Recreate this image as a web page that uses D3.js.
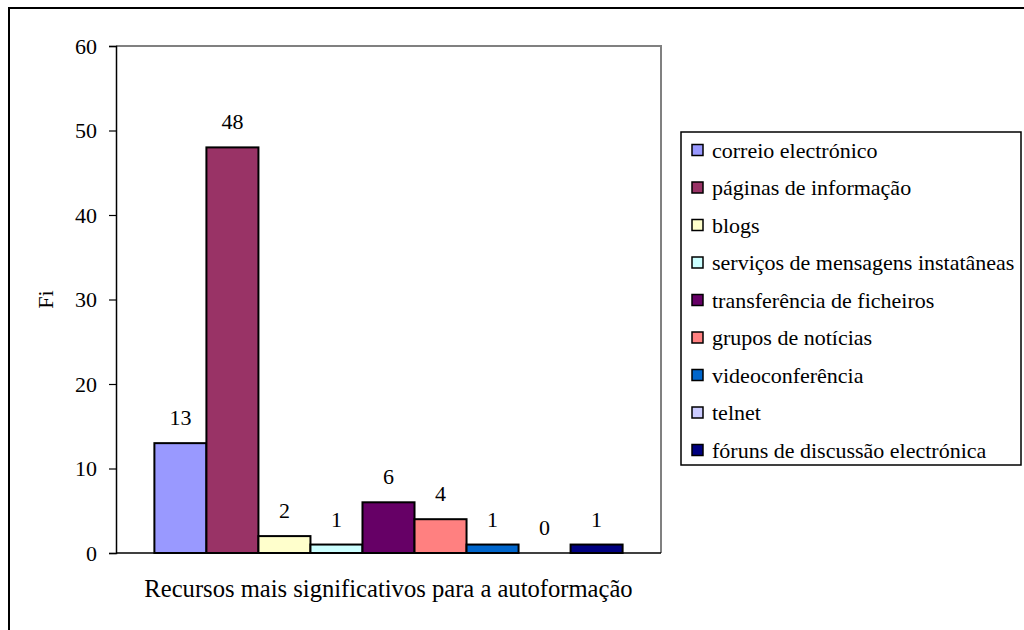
<!DOCTYPE html>
<html>
<head>
<meta charset="utf-8">
<script src="https://cdn.jsdelivr.net/npm/d3@7"></script>
<style>
  html, body { margin: 0; padding: 0; background: #fff; }
  svg { display: block; }
  svg text { font-family: "Liberation Serif", "Times New Roman", "DejaVu Serif", serif; fill: #000; }
</style>
</head>
<body>
<svg id="chart" width="1024" height="630"></svg>
<script>
// Resources rated most significant for self-training (frequency Fi)
const category = "Recursos mais significativos para a autoformação";
const seriesNames = [
  "correio electrónico",
  "páginas de informação",
  "blogs",
  "serviços de mensagens instatâneas",
  "transferência de ficheiros",
  "grupos de notícias",
  "videoconferência",
  "telnet",
  "fóruns de discussão electrónica"
];
const seriesValues = [13, 48, 2, 1, 6, 4, 1, 0, 1];
const seriesColors = ["#9999FF", "#993366", "#FFFFCC", "#CCFFFF", "#660066", "#FF8080", "#0066CC", "#CCCCFF", "#000080"];
const yTicks = [0, 10, 20, 30, 40, 50, 60];

const FONT = "'Liberation Serif', 'Times New Roman', 'DejaVu Serif', serif";
const FS = 22;
const svg = d3.select("#chart");
const plot = { left: 116, right: 661, top: 46, bottom: 553 };

// outer chart frame (runs off the right and bottom edges)
svg.append("rect")
  .attr("x", 9).attr("y", 8)
  .attr("width", 1030).attr("height", 640)
  .attr("fill", "none").attr("stroke", "#000").attr("stroke-width", 2);

const y = d3.scaleLinear().domain([0, 60]).range([plot.bottom, plot.top]);

// one category band, series bars side by side inside it
const xCat = d3.scaleBand().domain([category]).range([plot.left, plot.right]).paddingOuter(0.082).paddingInner(0);
const xSer = d3.scaleBand().domain(seriesNames).range([0, xCat.bandwidth()]).padding(0);

// plot area border (grey top and right)
svg.append("path")
  .attr("d", `M${plot.left},${plot.top}H${plot.right}V${plot.bottom}`)
  .attr("fill", "none").attr("stroke", "#808080").attr("stroke-width", 2);

// bars
const g = svg.append("g").attr("transform", `translate(${xCat(category)},0)`);
g.selectAll("rect.bar")
  .data(seriesNames.map((n, i) => ({ name: n, value: seriesValues[i], color: seriesColors[i] })))
  .join("rect")
  .attr("class", "bar")
  .attr("x", d => xSer(d.name))
  .attr("y", d => y(d.value))
  .attr("width", xSer.bandwidth())
  .attr("height", d => y(0) - y(d.value))
  .attr("fill", d => d.color)
  .attr("stroke", "#000")
  .attr("stroke-width", 2);

// value labels
g.selectAll("text.val")
  .data(seriesNames.map((n, i) => ({ name: n, value: seriesValues[i] })))
  .join("text")
  .attr("class", "val")
  .attr("x", d => xSer(d.name) + xSer.bandwidth() / 2)
  .attr("y", d => y(d.value) - 18)
  .attr("text-anchor", "middle")
  .attr("font-family", FONT)
  .attr("font-size", FS)
  .text(d => d.value);

// y axis
const yAxis = d3.axisLeft(y).tickValues(yTicks).tickSize(7).tickPadding(12);
const ya = svg.append("g").attr("transform", `translate(${plot.left},0)`).call(yAxis)
  .attr("font-family", FONT).attr("font-size", FS);
ya.select(".domain").attr("stroke", "#000").attr("stroke-width", 1.5);
ya.selectAll(".tick line").attr("stroke", "#000").attr("stroke-width", 1.2);
ya.selectAll(".tick text").attr("fill", "#000");

// x axis baseline
svg.append("line")
  .attr("x1", plot.left).attr("x2", plot.right)
  .attr("y1", y(0)).attr("y2", y(0))
  .attr("stroke", "#000").attr("stroke-width", 1.5);

// axis titles
svg.append("text")
  .attr("transform", `translate(53,${(plot.top + plot.bottom) / 2}) rotate(-90)`)
  .attr("text-anchor", "middle")
  .attr("font-family", FONT)
  .attr("font-size", FS)
  .text("Fi");

svg.append("text")
  .attr("x", (plot.left + plot.right) / 2)
  .attr("y", 597)
  .attr("text-anchor", "middle")
  .attr("font-family", FONT)
  .attr("font-size", 24.6)
  .text(category);

// legend
const legend = { x: 681, y: 132, w: 340, h: 333, rowH: 37.5 };
svg.append("rect")
  .attr("x", legend.x).attr("y", legend.y)
  .attr("width", legend.w).attr("height", legend.h)
  .attr("fill", "#fff").attr("stroke", "#000").attr("stroke-width", 1.5);

const items = svg.append("g").selectAll("g")
  .data(seriesNames.map((n, i) => ({ name: n, color: seriesColors[i] })))
  .join("g")
  .attr("transform", (d, i) => `translate(${legend.x + 11},${legend.y + 18 + i * legend.rowH})`);
items.append("rect")
  .attr("x", 0).attr("y", -5.5)
  .attr("width", 11).attr("height", 11)
  .attr("fill", d => d.color)
  .attr("stroke", "#000").attr("stroke-width", 1.5);
items.append("text")
  .attr("x", 20).attr("y", 7.5)
  .attr("font-family", FONT)
  .attr("font-size", FS)
  .text(d => d.name);
</script>
</body>
</html>
